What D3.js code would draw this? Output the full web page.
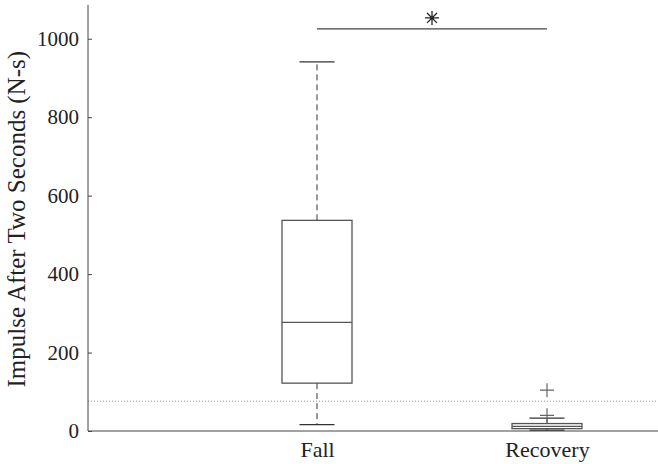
<!DOCTYPE html>
<html>
<head>
<meta charset="utf-8">
<script src="https://cdn.jsdelivr.net/npm/d3@7"></script>
<style>
  body { margin: 0; background: #fff; }
</style>
</head>
<body>
<div id="chart"></div>
<script>
// groups and their box statistics
var groups = ["Fall", "Recovery"];
var whiskerLow = [16, 2];
var q1 = [122, 6];
var median = [277, 12];
var q3 = [537, 19];
var whiskerHigh = [941, 33];
var outliers = [[], [40, 104]];

var yTicks = [0, 200, 400, 600, 800, 1000];
var threshold = 76;     // dotted reference line
var sigLevel = 1025;    // significance bar height

var serif = "'Liberation Serif', 'Times New Roman', Times, serif";

var margin = {top: 5, right: 0, bottom: 33, left: 88}
  , width = 658 - margin.left - margin.right
  , height = 464 - margin.top - margin.bottom;

var svg = d3.select("#chart").append("svg")
    .attr("width", 658)
    .attr("height", 464)
  .append("g")
    .attr("transform", "translate(" + margin.left + "," + margin.top + ")");

var y = d3.scaleLinear()
    .domain([0, 1086])
    .range([height, 0]);

var x = d3.scalePoint()
    .domain(groups)
    .range([229, 459]);

var boxW = 70;

// dotted threshold line
svg.append("line")
    .attr("x1", 0).attr("x2", width)
    .attr("y1", y(threshold)).attr("y2", y(threshold))
    .attr("stroke", "#999")
    .attr("stroke-width", 1)
    .attr("stroke-dasharray", "1,2");

// y axis
var yAxis = svg.append("g")
    .call(d3.axisLeft(y).tickValues(yTicks).tickFormat(d3.format("d")).tickSize(-4).tickPadding(9));
yAxis.attr("font-family", serif);
yAxis.select(".domain").attr("stroke", "#444").attr("d", "M0," + height + "V0");
yAxis.selectAll(".tick line").attr("stroke", "#444");
yAxis.selectAll("text").style("font-size", "21px").style("font-family", serif).attr("fill", "#222");

// x axis
var xAxis = svg.append("g")
    .attr("transform", "translate(0," + height + ")")
    .call(d3.axisBottom(x).tickSize(0).tickPadding(10));
xAxis.attr("font-family", serif);
xAxis.select(".domain").attr("stroke", "#444").attr("d", "M0,0H" + width);
xAxis.selectAll("text").style("font-size", "22px").style("font-family", serif).attr("fill", "#222");

// y label
svg.append("text")
    .attr("transform", "translate(-63," + y(540) + ") rotate(-90)")
    .attr("text-anchor", "middle")
    .style("font-size", "25px")
    .style("font-family", serif)
    .attr("fill", "#222")
    .text("Impulse After Two Seconds (N-s)");

// boxes
var g = svg.selectAll(".grp")
    .data(groups)
  .enter().append("g")
    .attr("class", "grp");

// whiskers (dashed)
g.append("line")
    .attr("x1", function(d) { return x(d); })
    .attr("x2", function(d) { return x(d); })
    .attr("y1", function(d, i) { return y(q3[i]); })
    .attr("y2", function(d, i) { return y(whiskerHigh[i]); })
    .attr("stroke", "#333").attr("stroke-dasharray", "6,4");
g.append("line")
    .attr("x1", function(d) { return x(d); })
    .attr("x2", function(d) { return x(d); })
    .attr("y1", function(d, i) { return y(q1[i]); })
    .attr("y2", function(d, i) { return y(whiskerLow[i]); })
    .attr("stroke", "#333").attr("stroke-dasharray", "6,4");

// whisker caps
[whiskerHigh, whiskerLow].forEach(function(arr) {
  g.append("line")
      .attr("x1", function(d) { return x(d) - boxW / 4; })
      .attr("x2", function(d) { return x(d) + boxW / 4; })
      .attr("y1", function(d, i) { return y(arr[i]); })
      .attr("y2", function(d, i) { return y(arr[i]); })
      .attr("stroke", "#333").attr("stroke-width", 1.2);
});

g.append("rect")
    .attr("x", function(d) { return x(d) - boxW / 2; })
    .attr("width", boxW)
    .attr("y", function(d, i) { return y(q3[i]); })
    .attr("height", function(d, i) { return y(q1[i]) - y(q3[i]); })
    .attr("fill", "none")
    .attr("stroke", "#555")
    .attr("stroke-width", 1.3);

g.append("line")
    .attr("x1", function(d) { return x(d) - boxW / 2; })
    .attr("x2", function(d) { return x(d) + boxW / 2; })
    .attr("y1", function(d, i) { return y(median[i]); })
    .attr("y2", function(d, i) { return y(median[i]); })
    .attr("stroke", "#555")
    .attr("stroke-width", 1.3);

// outliers as + marks
groups.forEach(function(grp, i) {
  outliers[i].forEach(function(v) {
    var cx = x(grp), cy = y(v);
    svg.append("path")
        .attr("d", "M" + (cx - 7) + "," + cy + "H" + (cx + 7) + "M" + cx + "," + (cy - 7) + "V" + (cy + 7))
        .attr("stroke", "#666")
        .attr("stroke-width", 1.2)
        .attr("fill", "none");
  });
});

// significance bar
svg.append("line")
    .attr("x1", x(groups[0])).attr("x2", x(groups[1]))
    .attr("y1", y(sigLevel)).attr("y2", y(sigLevel))
    .attr("stroke", "#444").attr("stroke-width", 1.3);

var sx = (x(groups[0]) + x(groups[1])) / 2, sy = y(sigLevel) - 11, sr = 7;
var star = d3.range(4).map(function(k) {
  var a = k * Math.PI / 4;
  return "M" + (sx - sr * Math.cos(a)) + "," + (sy - sr * Math.sin(a)) +
         "L" + (sx + sr * Math.cos(a)) + "," + (sy + sr * Math.sin(a));
}).join("");
svg.append("path")
    .attr("d", star)
    .attr("stroke", "#222")
    .attr("stroke-width", 1.3);
</script>
</body>
</html>
